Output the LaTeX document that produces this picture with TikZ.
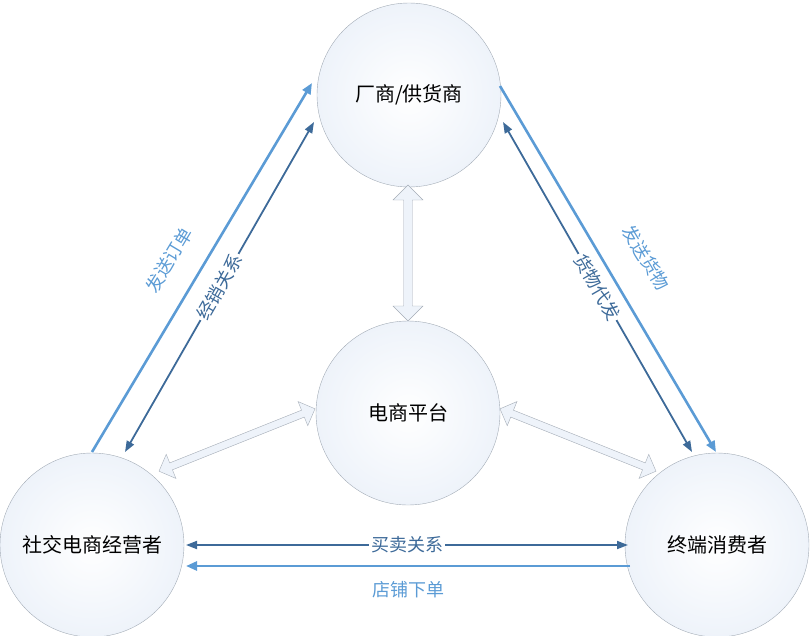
\documentclass[tikz,border=0pt]{standalone}
\usepackage{fontspec}
\newfontfamily\cjk{Noto Sans CJK SC}
\usetikzlibrary{shapes.arrows,arrows.meta}
\definecolor{lb}{HTML}{5B9BD5}
\definecolor{db}{HTML}{3D6A99}
\definecolor{cb}{HTML}{A4ACB6}
\definecolor{hf}{HTML}{EEF3FA}
\begin{document}
\begin{tikzpicture}[x=1pt,y=-1pt,
  ent/.style={circle,draw=cb,fill=white,inner color=white,outer color=hf,minimum size=184pt,font=\cjk\fontsize{20}{20}\selectfont},
  light/.style={draw=lb,line width=2.6pt,-{Triangle[length=11pt,width=9pt]}},
  darkd/.style={draw=db,line width=1.8pt,{Triangle[length=11pt,width=8pt]}-{Triangle[length=11pt,width=8pt]}},
  fat/.style={double arrow,draw=cb,fill=hf,minimum width=30pt,double arrow head extend=8pt,inner sep=3pt,double arrow head indent=0pt},
  lbl/.style={font=\cjk\fontsize{18}{18}\selectfont}]
\useasboundingbox (0,0) rectangle (810,635);
\node[ent] (top) at (409,95) {厂商/供货商};
\node[ent] (mid) at (408,413) {电商平台};
\node[ent] (left) at (92,545) {社交电商经营者};
\node[ent] (right) at (717,545) {终端消费者};
% hollow arrows
\node[fat,rotate=90,minimum height=136pt] (fa) at (408,253) {};
\node[fat,rotate=21.8,minimum height=168pt,minimum width=26pt] (fb) at (237,440) {};
\node[fat,rotate=-21.8,minimum height=168pt,minimum width=26pt] (fc) at (578,440) {};
% coordinates for connectors
\coordinate (l1) at (92,452); \coordinate (t1) at (312,83);
\coordinate (l2) at (125,452); \coordinate (t2) at (314,122);
\coordinate (t3) at (500,86); \coordinate (r3) at (716,452);
\coordinate (t4) at (503,122); \coordinate (r4) at (692,452);
\coordinate (b1) at (186,545); \coordinate (b2) at (628,545);
\coordinate (b3) at (630,566); \coordinate (b4) at (186,566);
\draw[light] (l1) -- (t1);
\draw[darkd] (l2) -- node[sloped,fill=white,inner sep=2pt,text=db,lbl] (s2) {经销关系} (t2);
\draw[light] (t3) -- (r3);
\draw[darkd] (t4) -- node[sloped,fill=white,inner sep=2pt,text=db,lbl] (s4) {货物代发} (r4);
\draw[darkd] (b1) -- node[fill=white,inner sep=2pt,text=db,lbl] (ml) {买卖关系} (b2);
\draw[light] (b3) -- (b4);
\node[lbl,text=lb] (sl) at (408,590) {店铺下单};
\node[lbl,text=lb,rotate=59] (s1) at (169,260) {发送订单};
\node[lbl,text=lb,rotate=-59] (s3) at (646,258) {发送货物};
\end{tikzpicture}
\end{document}
